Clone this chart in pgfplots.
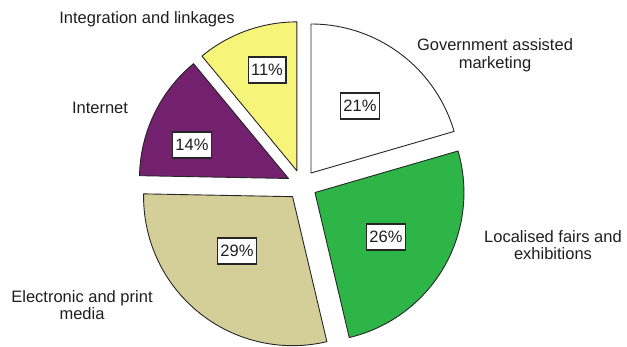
\documentclass[border=0pt]{standalone}
\usepackage{pgfplots}
\usepackage{pgfplotstable}
\pgfplotsset{compat=1.18}
\usepackage{fontspec}
\setmainfont{Liberation Sans}
\definecolor{cwhite}{RGB}{255,255,255}
\definecolor{cgreen}{RGB}{46,181,72}
\definecolor{ckhaki}{RGB}{212,206,152}
\definecolor{cpurple}{RGB}{115,32,110}
\definecolor{cyellow}{RGB}{247,244,122}
\definecolor{ctext}{RGB}{30,30,30}

% slices clockwise from 12 o'clock: value (share), shown label, colour
\pgfplotstableread{
value pct col
20.5 21 cwhite
25.8 26 cgreen
29.0 29 ckhaki
13.7 14 cpurple
11.0 11 cyellow
}\piedata

\begin{document}
\begin{tikzpicture}
\useasboundingbox (0,0) rectangle (627pt,347pt);
\begin{axis}[
  at={(0,0)}, anchor=south west,
  scale only axis, width=627pt, height=347pt,
  xmin=0, xmax=627, ymin=0, ymax=347,
  hide axis, clip=false,
]
\def\cx{302}\def\cy{162}\def\rr{149}\def\dd{15}
\gdef\startangle{90}
\pgfplotsforeachungrouped \i in {0,...,4}{
  \pgfplotstablegetelem{\i}{value}\of\piedata \let\v\pgfplotsretval
  \pgfplotstablegetelem{\i}{col}\of\piedata \let\c\pgfplotsretval
  \pgfmathsetmacro{\endangle}{\startangle - 3.6*\v}
  \pgfmathsetmacro{\midangle}{(\startangle+\endangle)/2}
  \pgfmathsetmacro{\ax}{\cx + \dd*cos(\midangle)}
  \pgfmathsetmacro{\ay}{\cy + \dd*sin(\midangle)}
  \edef\temp{\noexpand\addplot[fill=\c, draw=black!85, line width=0.9pt, line join=round, domain=\endangle:\startangle, samples=80] ({\ax+\rr*cos(x)},{\ay+\rr*sin(x)}) -- (axis cs:\ax,\ay) -- cycle;}
  \temp
  \global\let\startangle\endangle
}
\tikzset{pl/.style={draw=black!85, line width=1.2pt, fill=white, inner xsep=3pt, minimum height=26pt, text=ctext, font=\fontsize{16.5}{18}\selectfont},
         ol/.style={align=center, text=ctext, font=\fontsize{16.5}{17.5}\selectfont}}
\node[pl] at (axis cs:360,241) {21\%};
\node[pl] at (axis cs:386,110) {26\%};
\node[pl] at (axis cs:237,96) {29\%};
\node[pl] at (axis cs:192,202) {14\%};
\node[pl] at (axis cs:267,277) {11\%};
\node[ol] at (axis cs:495,292) {Government assisted\\marketing};
\node[ol] at (axis cs:553,102) {Localised fairs and\\exhibitions};
\node[ol] at (axis cs:82,42) {Electronic and print\\media};
\node[ol] at (axis cs:100,239) {Internet};
\node[ol] at (axis cs:147,328) {Integration and linkages};
\end{axis}
\end{tikzpicture}
\end{document}
